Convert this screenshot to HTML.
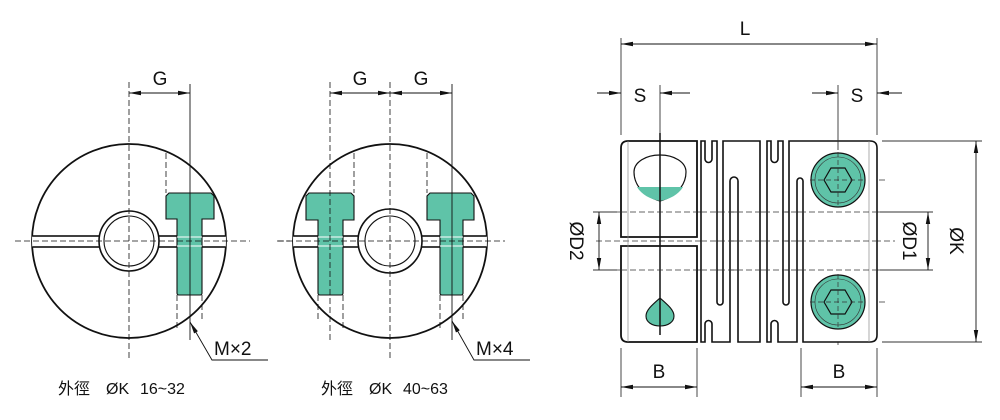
<!DOCTYPE html>
<html><head><meta charset="utf-8"><style>
html,body{margin:0;padding:0;background:#fff;width:1000px;height:420px;overflow:hidden}
svg{display:block}
text{font-family:"Liberation Sans","Noto Sans CJK TC",sans-serif;fill:#111}
</style></head><body>
<svg width="1000" height="420" viewBox="0 0 1000 420" xmlns="http://www.w3.org/2000/svg">
<defs>
<marker id="a" viewBox="0 0 12 6" refX="12" refY="3" markerWidth="12" markerHeight="6" markerUnits="userSpaceOnUse" orient="auto-start-reverse"><path d="M0,0.8 L12,3 L0,5.2Z" fill="#111"/></marker>
<clipPath id="c1"><circle cx="129" cy="241" r="97"/></clipPath>
<clipPath id="c2"><circle cx="390" cy="241" r="97"/></clipPath>
</defs>
<g stroke="#111" fill="none">
<circle cx="129" cy="241" r="97" stroke-width="1.8"/>
<g clip-path="url(#c1)">
<rect x="20" y="236" width="220" height="11" fill="#fff" stroke-width="1.6"/>
</g>
<circle cx="129" cy="241" r="30" fill="#fff" stroke-width="1.6"/>
<circle cx="129" cy="241" r="25" stroke-width="1.1"/>
<path d="M169,193 H211 L214,196 V219 H202 V293 Q202,295 200,295 H179 Q177,295 177,293 V219 H166 V196 Z" fill="#5fc3a8" stroke-width="1.1"/>
<line x1="177" y1="237" x2="202" y2="237" stroke="#fff" stroke-width="1"/>
<line x1="177" y1="246" x2="202" y2="246" stroke="#fff" stroke-width="1"/>
<g stroke-width="0.8" stroke-dasharray="6,3">
<line x1="15" y1="241" x2="250" y2="241"/><line x1="277" y1="241" x2="290" y2="241"/>
<line x1="129" y1="82" x2="129" y2="360"/>
<line x1="166" y1="153" x2="166" y2="193"/>
<line x1="177" y1="295" x2="177" y2="330"/><line x1="202" y1="295" x2="202" y2="320"/>
</g>
<line x1="190" y1="84" x2="190" y2="340" stroke-width="0.9"/>
<line x1="129" y1="93" x2="190" y2="93" stroke-width="0.9" marker-start="url(#a)" marker-end="url(#a)"/>
<polyline points="190,322 212,360 268,360" stroke-width="0.9" marker-start="url(#a)"/>
<circle cx="390" cy="241" r="97" stroke-width="1.8"/>
<g clip-path="url(#c2)">
<rect x="280" y="236" width="220" height="11" fill="#fff" stroke-width="1.6"/>
</g>
<circle cx="390" cy="241" r="32" fill="#fff" stroke-width="1.6"/>
<circle cx="390" cy="241" r="25" stroke-width="1.1"/>
<path d="M309,193 H351 L354,196 V220 H343 V293 Q343,295 341,295 H320 Q318,295 318,293 V220 H306 V196 Z" fill="#5fc3a8" stroke-width="1.1"/>
<path d="M430,193 H471 L474,196 V220 H463 V293 Q463,295 461,295 H442 Q440,295 440,293 V220 H427 V196 Z" fill="#5fc3a8" stroke-width="1.1"/>
<g stroke="#fff" stroke-width="1"><line x1="318" y1="237" x2="343" y2="237"/><line x1="318" y1="246" x2="343" y2="246"/><line x1="440" y1="237" x2="463" y2="237"/><line x1="440" y1="246" x2="463" y2="246"/></g>
<g stroke-width="0.8" stroke-dasharray="6,3">
<line x1="278" y1="241" x2="505" y2="241"/>
<line x1="390" y1="82" x2="390" y2="360"/>
<line x1="330" y1="82" x2="330" y2="340"/>
<line x1="354" y1="153" x2="354" y2="193"/><line x1="427" y1="153" x2="427" y2="193"/>
<line x1="318" y1="295" x2="318" y2="320"/><line x1="343" y1="295" x2="343" y2="330"/>
<line x1="440" y1="295" x2="440" y2="330"/><line x1="463" y1="295" x2="463" y2="320"/>
</g>
<line x1="452" y1="84" x2="452" y2="340" stroke-width="0.9"/>
<line x1="330" y1="93" x2="390" y2="93" stroke-width="0.9" marker-start="url(#a)" marker-end="url(#a)"/>
<line x1="390" y1="93" x2="452" y2="93" stroke-width="0.9" marker-start="url(#a)" marker-end="url(#a)"/>
<polyline points="452,321 474,360 530,360" stroke-width="0.9" marker-start="url(#a)"/>
<g stroke-width="0.8" stroke-dasharray="6,3" stroke="#333">
<line x1="596" y1="212" x2="890" y2="212"/>
<line x1="596" y1="241" x2="895" y2="241"/>
<line x1="596" y1="270" x2="890" y2="270"/>
<line x1="807" y1="180" x2="885" y2="180"/>
<line x1="807" y1="302" x2="885" y2="302"/>
<line x1="838" y1="150" x2="838" y2="225"/>
<line x1="838" y1="258" x2="838" y2="345"/>
</g>
<path d="M697,237 H621 V148 Q621,141 628,141 H697 Z" fill="#fff" stroke-width="1.8"/>
<path d="M697,246 H621 V335 Q621,342 628,342 H697 Z" fill="#fff" stroke-width="1.8"/>
<line x1="628" y1="141" x2="628" y2="342" stroke="#888" stroke-width="0.7"/>
<path d="M660,201 C640,195 634,182 634,172 C634,162 646,155 660,155 C674,155 686,162 686,172 C686,182 680,195 660,201 Z" fill="#fff" stroke-width="1.2"/>
<path d="M637,187 H683 C678,195 670,199 660,201 C650,199 642,195 637,187 Z" fill="#5fc3a8" stroke="none"/>
<path d="M660,298 C668,305 674,310 674,316 C674,322 668,326 660,326 C652,326 646,322 646,316 C646,310 652,305 660,298 Z" fill="#5fc3a8" stroke-width="1.1"/>
<line x1="660" y1="133" x2="660" y2="335" stroke-width="1.5"/>
<path d="M701,342 V141 H705 V159 A3.5,3.5 0 0 0 712,159 V141 H717 V302 A3,3 0 0 0 723,302 V141 H760 V342 H738 V181 A4,4 0 0 0 730,181 V342 H712 V324 A3.5,3.5 0 0 0 705,324 V342 Z" fill="#fff" stroke-width="1.6"/>
<path d="M767,342 V141 H771 V159 A3.5,3.5 0 0 0 778,159 V141 H783 V302 A3,3 0 0 0 789,302 V141 H870 Q877,141 877,148 V335 Q877,342 870,342 H803 V181 A3,3 0 0 0 797,181 V342 H778 V324 A3.5,3.5 0 0 0 771,324 V342 Z" fill="#fff" stroke-width="1.6"/>
<line x1="869" y1="141" x2="869" y2="342" stroke="#888" stroke-width="0.7"/>
<g stroke-width="0.8" stroke-dasharray="6,3" stroke="#333">
<line x1="701" y1="212" x2="877" y2="212"/><line x1="701" y1="241" x2="877" y2="241"/><line x1="701" y1="270" x2="877" y2="270"/>
<line x1="621" y1="212" x2="697" y2="212"/><line x1="621" y1="270" x2="697" y2="270"/>
</g>
<g stroke-width="1.2">
<circle cx="838" cy="180" r="27" fill="#5fc3a8"/><circle cx="838" cy="180" r="23" stroke="#333" stroke-width="0.6"/>
<polygon points="824,180 831,168 845,168 852,180 845,192 831,192"/>
<circle cx="838" cy="302" r="27" fill="#5fc3a8"/><circle cx="838" cy="302" r="23" stroke="#333" stroke-width="0.6"/>
<polygon points="824,302 831,290 845,290 852,302 845,314 831,314"/>
</g>
<g stroke-width="0.7" stroke-dasharray="5,3" stroke="#333">
<line x1="810" y1="180" x2="866" y2="180"/><line x1="838" y1="152" x2="838" y2="208"/>
<line x1="810" y1="302" x2="866" y2="302"/><line x1="838" y1="274" x2="838" y2="330"/>
</g>
<g stroke-width="0.9" stroke="#333">
<line x1="621" y1="38" x2="621" y2="135"/><line x1="877" y1="38" x2="877" y2="135"/>
<line x1="660" y1="85" x2="660" y2="133"/><line x1="838" y1="85" x2="838" y2="150"/>
<line x1="621" y1="348" x2="621" y2="397"/><line x1="697" y1="348" x2="697" y2="397"/>
<line x1="801" y1="348" x2="801" y2="397"/><line x1="877" y1="348" x2="877" y2="397"/>
<line x1="882" y1="141" x2="982" y2="141"/><line x1="882" y1="342" x2="982" y2="342"/>
<line x1="880" y1="212" x2="933" y2="212"/><line x1="880" y1="270" x2="933" y2="270"/>
<line x1="593" y1="212" x2="617" y2="212"/><line x1="593" y1="270" x2="617" y2="270"/>
</g>
<g stroke-width="0.9" stroke="#111">
<line x1="621" y1="44" x2="877" y2="44" marker-start="url(#a)" marker-end="url(#a)"/>
<line x1="597" y1="93" x2="621" y2="93" marker-end="url(#a)"/>
<line x1="690" y1="93" x2="660" y2="93" marker-end="url(#a)"/>
<line x1="812" y1="93" x2="838" y2="93" marker-end="url(#a)"/>
<line x1="902" y1="93" x2="877" y2="93" marker-end="url(#a)"/>
<line x1="621" y1="387" x2="697" y2="387" marker-start="url(#a)" marker-end="url(#a)"/>
<line x1="801" y1="387" x2="877" y2="387" marker-start="url(#a)" marker-end="url(#a)"/>
<line x1="976" y1="141" x2="976" y2="342" marker-start="url(#a)" marker-end="url(#a)"/>
<line x1="928" y1="212" x2="928" y2="270" marker-start="url(#a)" marker-end="url(#a)"/>
<line x1="599" y1="212" x2="599" y2="270" marker-start="url(#a)" marker-end="url(#a)"/>
</g>
</g>
<g font-size="19">
<text x="160" y="85" text-anchor="middle">G</text>
<text x="360" y="85" text-anchor="middle">G</text>
<text x="421" y="85" text-anchor="middle">G</text>
<text x="214" y="355">M×2</text>
<text x="476" y="355">M×4</text>
<text x="745" y="35" text-anchor="middle">L</text>
<text x="640" y="102" text-anchor="middle">S</text>
<text x="857" y="102" text-anchor="middle">S</text>
<text x="659" y="378" text-anchor="middle">B</text>
<text x="839" y="378" text-anchor="middle">B</text>
<text transform="translate(570,241) rotate(90)" text-anchor="middle">ØD2</text>
<text transform="translate(903,241) rotate(90)" text-anchor="middle">ØD1</text>
<text transform="translate(950,241) rotate(90)" text-anchor="middle">ØK</text>
</g>
<g font-size="16">
<text x="58" y="394">外徑</text><text x="106" y="394">ØK</text><text x="140" y="394">16~32</text>
<text x="321" y="394">外徑</text><text x="369" y="394">ØK</text><text x="403" y="394">40~63</text>
</g>
</svg>
</body></html>
